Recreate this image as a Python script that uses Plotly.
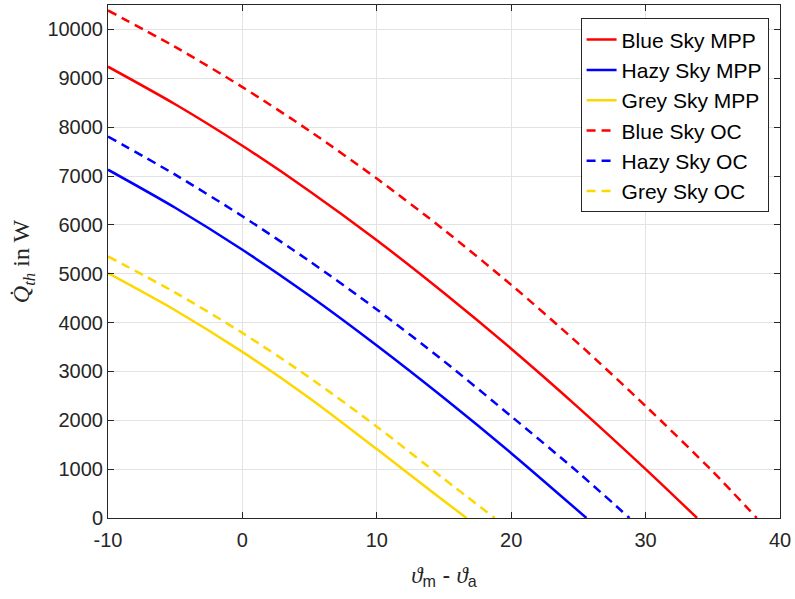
import plotly.graph_objects as go

# Data (x = theta_m - theta_a, y = Q_th in W)
x_blue_mpp = [-10, -5, 0, 5, 10, 15, 20, 25, 30, 33.83]
y_blue_mpp = [9237, 8468, 7618, 6690, 5685, 4605, 3465, 2260, 1000, 0]

x_hazy_mpp = [-10, -5, 0, 5, 10, 15, 20, 25.6]
y_hazy_mpp = [7129, 6350, 5490, 4548, 3530, 2455, 1327, 0]

x_grey_mpp = [-10, -5, 0, 5, 10, 15, 16.67]
y_grey_mpp = [5012, 4253, 3400, 2452, 1410, 350, 0]

x_blue_oc = [-10, -5, 0, 5, 10, 15, 20, 25, 30, 35, 38.27]
y_blue_oc = [10388, 9642, 8820, 7922, 6948, 5898, 4772, 3570, 2292, 950, 0]

x_hazy_oc = [-10, -5, 0, 5, 10, 15, 20, 25, 28.8]
y_hazy_oc = [7808, 7027, 6176, 5256, 4267, 3209, 2082, 930, 0]

x_grey_oc = [-10, -5, 0, 5, 10, 15, 18.77]
y_grey_oc = [5353, 4614, 3788, 2873, 1870, 800, 0]

x_ticks = [-10, 0, 10, 20, 30, 40]
x_tick_labels = ["-10", "0", "10", "20", "30", "40"]
y_ticks = [0, 1000, 2000, 3000, 4000, 5000, 6000, 7000, 8000, 9000, 10000]
y_tick_labels = ["0", "1000", "2000", "3000", "4000", "5000", "6000", "7000", "8000", "9000", "10000"]

RED = "#FF0000"
BLUE = "#0000FF"
YELLOW = "#FFD700"
DASH = "9px,6px"

series = [
    ("Blue Sky MPP", x_blue_mpp, y_blue_mpp, RED, "solid"),
    ("Hazy Sky MPP", x_hazy_mpp, y_hazy_mpp, BLUE, "solid"),
    ("Grey Sky MPP", x_grey_mpp, y_grey_mpp, YELLOW, "solid"),
    ("Blue Sky OC", x_blue_oc, y_blue_oc, RED, DASH),
    ("Hazy Sky OC", x_hazy_oc, y_hazy_oc, BLUE, DASH),
    ("Grey Sky OC", x_grey_oc, y_grey_oc, YELLOW, DASH),
]

fig = go.Figure()
for name, xs, ys, col, dash in series:
    fig.add_trace(go.Scatter(
        x=xs, y=ys, mode="lines", name=name,
        line=dict(color=col, width=2.5, dash=dash, shape="spline", smoothing=0.8),
    ))

axis_common = dict(
    showline=True, linecolor="#262626", linewidth=1, mirror="ticks",
    ticks="inside", ticklen=6, tickcolor="#262626",
    showgrid=True, gridcolor="#e3e3e3", gridwidth=1,
    zeroline=False,
    tickfont=dict(family="Liberation Sans, Arial, sans-serif", size=20, color="#262626"),
)

fig.update_layout(
    width=795, height=599,
    margin=dict(l=108, r=12, t=4, b=81),
    paper_bgcolor="white", plot_bgcolor="white",
    showlegend=True,
    legend=dict(
        x=0.983, y=0.9738, xanchor="right", yanchor="top",
        bgcolor="white", bordercolor="#262626", borderwidth=1,
        font=dict(family="Liberation Sans, Arial, sans-serif", size=21, color="#000000"),
        tracegroupgap=0,
    ),
    xaxis=dict(
        range=[-10, 40], tickvals=x_ticks, ticktext=x_tick_labels,
        ticklabelstandoff=4,
        title=dict(
            text="<span style='font-family:Liberation Serif'><i>ϑ</i></span><sub>m</sub> - "
                 "<span style='font-family:Liberation Serif'><i>ϑ</i></span><sub>a</sub>",
            font=dict(family="Liberation Sans, Arial, sans-serif", size=23, color="#262626"),
            standoff=16,
        ),
        **axis_common,
    ),
    yaxis=dict(
        range=[0, 10500], tickvals=y_ticks, ticktext=y_tick_labels,
        title=dict(
            text="<i>Q̇</i><sub><i>th</i></sub> in W",
            font=dict(family="Liberation Serif, Times New Roman, serif", size=24, color="#262626"),
            standoff=10,
        ),
        **axis_common,
    ),
)

fig.write_html("out.html")
